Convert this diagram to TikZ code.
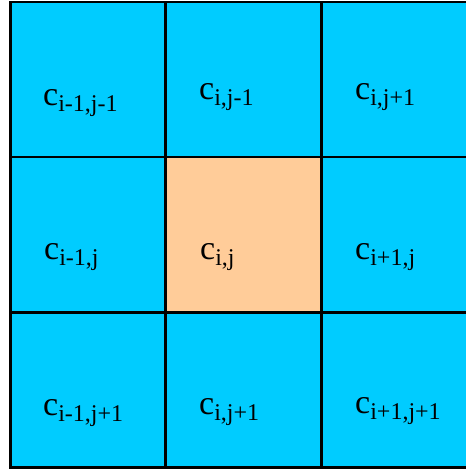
\documentclass[tikz,border=0pt]{standalone}
\usepackage{fontspec}
\setmainfont{Liberation Serif}
\definecolor{cellblue}{RGB}{0,204,255}
\definecolor{cellpeach}{RGB}{255,204,153}
\newcommand{\cellname}[1]{{\fontsize{34}{34}\selectfont c}\raisebox{-6pt}{\fontsize{24}{24}\selectfont #1}}
\begin{document}
\begin{tikzpicture}[x=1pt,y=-1pt,
  cell/.style={draw=black,line width=2.6pt,fill=cellblue,rectangle,minimum width=155.5pt,minimum height=155.25pt,inner sep=0pt},
  center/.style={cell,fill=cellpeach},
  lbl/.style={anchor=base west,inner sep=0pt,text=black}]
\useasboundingbox (0,0) rectangle (466,469);
\clip (0,0) rectangle (466,469);
% cells (centres)
\node[cell]   (c00) at (88,79.5) {};
\node[cell]   (c10) at (243.5,79.5) {};
\node[cell]   (c20) at (399,79.5) {};
\node[cell]   (c01) at (88,234.5) {};
\node[center] (c11) at (243.5,234.5) {};
\node[cell]   (c21) at (399,234.5) {};
\node[cell]   (c02) at (88,390) {};
\node[cell]   (c12) at (243.5,390) {};
\node[cell]   (c22) at (399,390) {};
% labels
\node[lbl] (l00) at (43,105) {\cellname{i-1,j-1}};
\node[lbl] (l10) at (199,99) {\cellname{i,j-1}};
\node[lbl] (l20) at (355,99) {\cellname{i,j+1}};
\node[lbl] (l01) at (44,259) {\cellname{i-1,j}};
\node[lbl] (l11) at (200,259) {\cellname{i,j}};
\node[lbl] (l21) at (355,259) {\cellname{i+1,j}};
\node[lbl] (l02) at (43,415) {\cellname{i-1,j+1}};
\node[lbl] (l12) at (199,414) {\cellname{i,j+1}};
\node[lbl] (l22) at (355,413) {\cellname{i+1,j+1}};
\end{tikzpicture}
\end{document}
